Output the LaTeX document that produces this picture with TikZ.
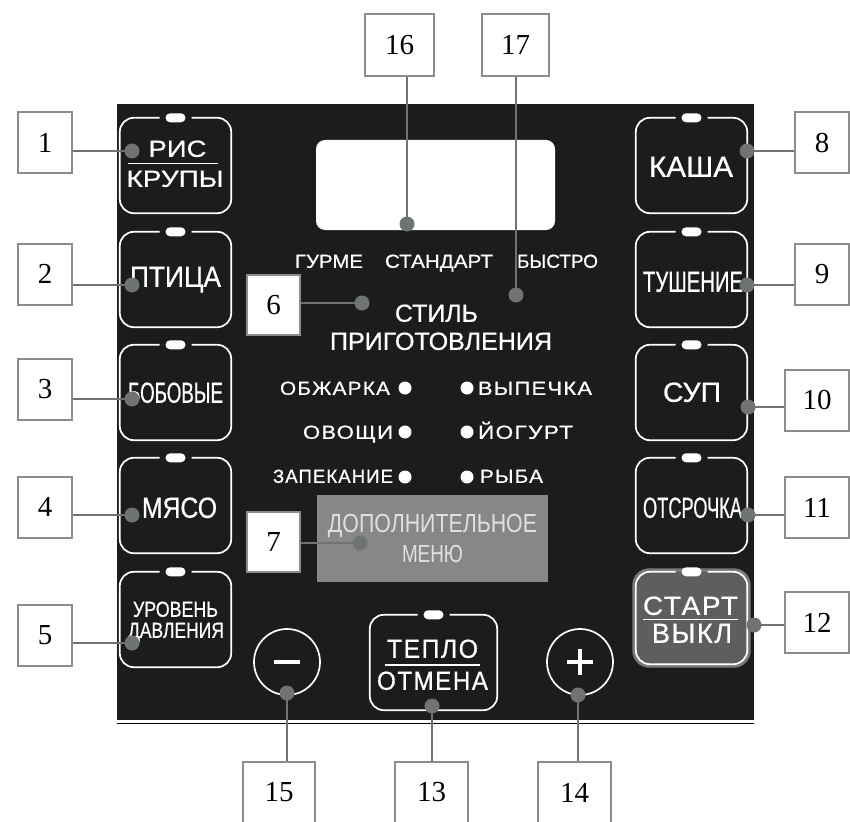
\documentclass[tikz,border=0pt]{standalone}
\usepackage{fontspec}
\setmainfont{Liberation Serif}
\newfontfamily\panelfont[FakeBold=0.7]{Liberation Sans}
\newfontfamily\spacedfont[LetterSpace=6,FakeBold=0.7]{Liberation Sans}
\newfontfamily\menufont{Liberation Sans}
\usepackage{graphicx}
\usetikzlibrary{positioning}
\colorlet{panelColor}{black!89}
\colorlet{boxColor}{black!45}
\colorlet{menuColor}{black!47}
\colorlet{startColor}{black!63}
\colorlet{startRim}{black!52}
\definecolor{leadColor}{RGB}{112,115,115}
\newcommand{\fitlabel}[3]{\resizebox{#1pt}{#2pt}{\panelfont\smash{#3}\vphantom{Н}}}
\newcommand{\fitspaced}[3]{\resizebox{#1pt}{#2pt}{\spacedfont\smash{#3}\vphantom{Н}}}
\newcommand{\fitmenu}[3]{\resizebox{#1pt}{#2pt}{\menufont\smash{#3}\vphantom{Н}}}
\tikzset{
	numbox/.style={draw=boxColor,line width=2pt,fill=white,inner sep=0pt,minimum width=54pt,minimum height=61pt,font=\fontsize{29}{29}\selectfont},
	panelkey/.style={inner sep=0pt,minimum width=111pt,minimum height=95pt},
	keyline/.style={draw=white,line width=1.7pt,rounded corners=14pt},
	lbl/.style={inner sep=0pt,anchor=south,text=white},
	lead/.style={draw=leadColor,line width=2.7pt},
	ledpill/.style={fill=white,rounded corners=4.5pt},
	modedot/.style={circle,fill=white,inner sep=0pt,minimum size=13pt},
	roundkey/.style={circle,draw=white,line width=1.7pt,minimum size=66pt,inner sep=0pt}
}
\begin{document}
\begin{tikzpicture}[x=1pt,y=-1pt]
	\useasboundingbox (0,0) rectangle (850,821);
	\fill[panelColor] (117,104) rectangle (754,720);
	\draw[black,line width=1.5pt] (117,723.5) -- (754,723.5);
	\node[fill=white,rounded corners=9pt,minimum width=239pt,minimum height=90pt] (display) at (435.5,185) {};
	\node[fill=menuColor,minimum width=231pt,minimum height=87pt] (menu) at (432.5,538.5) {};
	\node[panelkey] (k1) at (175.5,165.5) {};
	\node[panelkey] (k2) at (175.5,279.5) {};
	\node[panelkey] (k3) at (175.5,392.5) {};
	\node[panelkey] (k4) at (175.5,505.5) {};
	\node[panelkey] (k5) at (175.5,619.5) {};
	\node[panelkey] (k8) at (691.5,165.5) {};
	\node[panelkey] (k9) at (691.5,279.5) {};
	\node[panelkey] (k10) at (691.5,392.5) {};
	\node[panelkey] (k11) at (691.5,505.5) {};
	\node[panelkey,minimum height=92pt] (k12) at (691.5,618) {};
	\node[panelkey,minimum width=127pt] (k13) at (433.5,662.5) {};
	\fill[startRim,rounded corners=17pt] ([shift={(-3.5pt,3.5pt)}]k12.north west) rectangle ([shift={(3.5pt,-3.5pt)}]k12.south east);
	\fill[startColor,rounded corners=14pt] (k12.north west) rectangle (k12.south east);
	\foreach \k in {k1,k2,k3,k4,k5,k8,k9,k10,k11,k12,k13}{
		\draw[keyline] ([xshift=16pt]\k.north) -| (\k.south east) -| (\k.north west) -- ([xshift=-16pt]\k.north);
		\fill[ledpill] ([shift={(-10pt,-4.5pt)}]\k.north) rectangle ([shift={(10pt,4.5pt)}]\k.north);
	}
	\node[roundkey] (minus) at (287,662) {};
	\node[roundkey] (plus) at (580,662) {};
	\draw[white,line width=4.5pt] ([xshift=-13pt]minus.center) -- ([xshift=13pt]minus.center);
	\draw[white,line width=4.5pt] ([xshift=-13pt]plus.center) -- ([xshift=13pt]plus.center);
	\draw[white,line width=4.5pt] ([yshift=-13pt]plus.center) -- ([yshift=13pt]plus.center);
	\node[lbl] (ris) at (177.5,157) {\fitlabel{58}{16}{РИС}};
	\node[lbl] (krupy) at (175,187) {\fitlabel{97}{16}{КРУПЫ}};
	\draw[white,line width=1.8pt] (128,163.5) -- (218,163.5);
	\node[lbl] (ptica) at (175.5,287) {\fitlabel{91}{20}{ПТИЦА}};
	\node[lbl] (bobovye) at (175.5,403) {\fitlabel{95}{20}{БОБОВЫЕ}};
	\node[lbl] (myaso) at (179.5,518) {\fitlabel{75}{20}{МЯСО}};
	\node[lbl] (uroven) at (175.5,617) {\fitlabel{85}{15}{УРОВЕНЬ}};
	\node[lbl] (davlenie) at (176,638) {\fitlabel{96}{15}{ДАВЛЕНИЯ}};
	\node[lbl] (kasha) at (691,177) {\fitlabel{84}{20}{КАША}};
	\node[lbl] (tushenie) at (693,292) {\fitlabel{100}{20}{ТУШЕНИЕ}};
	\node[lbl] (sup) at (692,402) {\fitlabel{58}{19}{СУП}};
	\node[lbl] (otsrochka) at (692.5,518) {\fitlabel{99}{20}{ОТСРОЧКА}};
	\node[lbl] (start) at (690.5,615) {\fitspaced{95}{18}{СТАРТ}};
	\draw[white,line width=1.8pt] (643,619.5) -- (738,619.5);
	\node[lbl] (vykl) at (692,643) {\fitspaced{80}{19}{ВЫКЛ}};
	\node[lbl] (teplo) at (432.5,658) {\fitspaced{91}{18}{ТЕПЛО}};
	\draw[white,line width=1.8pt] (385,665) -- (480,665);
	\node[lbl] (otmena) at (432.5,690) {\fitspaced{111}{18}{ОТМЕНА}};
	\node[lbl] (gurme) at (329,268) {\fitlabel{68}{13}{ГУРМЕ}};
	\node[lbl] (standart) at (439,268) {\fitlabel{108}{13}{СТАНДАРТ}};
	\node[lbl] (bystro) at (557.5,268) {\fitlabel{81}{13}{БЫСТРО}};
	\node[lbl] (stil) at (436.5,322) {\fitlabel{83}{17}{СТИЛЬ}};
	\node[lbl] (prigotovl) at (441,350) {\fitlabel{222}{17}{ПРИГОТОВЛЕНИЯ}};
	\node[lbl] (obzharka) at (335,395) {\fitspaced{110}{13}{ОБЖАРКА}};
	\node[lbl] (ovoshchi) at (348,439) {\fitspaced{90}{13}{ОВОЩИ}};
	\node[lbl] (zapekanie) at (333,483) {\fitspaced{120}{13}{ЗАПЕКАНИЕ}};
	\node[lbl] (vypechka) at (535,395) {\fitspaced{114}{13}{ВЫПЕЧКА}};
	\node[lbl] (yogurt) at (525.5,439) {\fitspaced{95}{13}{ЙОГУРТ}};
	\node[lbl] (ryba) at (511.5,483) {\fitspaced{63}{13}{РЫБА}};
	\node[modedot] (md1) at (405,388) {};
	\node[modedot] (md2) at (405,432) {};
	\node[modedot] (md3) at (405,477) {};
	\node[modedot] (md4) at (467,388) {};
	\node[modedot] (md5) at (467,432) {};
	\node[modedot] (md6) at (467,477) {};
	\node[lbl,text=black!12] (dopoln) at (432.5,533) {\fitmenu{209}{18}{ДОПОЛНИТЕЛЬНОЕ}};
	\node[lbl,text=black!12] (menyu) at (432.5,563) {\fitmenu{61}{17}{МЕНЮ}};
	\node[numbox] (n1) at (45,142.5) {1};
	\node[numbox] (n2) at (45,274) {2};
	\node[numbox] (n3) at (45,389) {3};
	\node[numbox] (n4) at (45,507) {4};
	\node[numbox] (n5) at (45,635) {5};
	\node[numbox,minimum width=53pt,minimum height=60pt] (n6) at (273.5,305) {6};
	\node[numbox,minimum width=53pt,minimum height=60pt] (n7) at (273.5,542) {7};
	\node[numbox] (n8) at (822,142.5) {8};
	\node[numbox] (n9) at (822,274) {9};
	\node[numbox,minimum width=64pt] (n10) at (817,400) {10};
	\node[numbox,minimum width=64pt] (n11) at (817,507.5) {11};
	\node[numbox,minimum width=64pt] (n12) at (817,622.5) {12};
	\node[numbox,minimum width=73pt] (n13) at (431.5,792.5) {13};
	\node[numbox,minimum width=73pt] (n14) at (574.5,792.5) {14};
	\node[numbox,minimum width=72pt] (n15) at (279,792.5) {15};
	\node[numbox,minimum width=69pt,minimum height=62pt] (n16) at (399.5,45) {16};
	\node[numbox,minimum width=67pt,minimum height=62pt] (n17) at (515.5,45) {17};
	\coordinate (p1) at (132,151);
	\coordinate (p2) at (132,285);
	\coordinate (p3) at (132,399);
	\coordinate (p4) at (132,515);
	\coordinate (p5) at (132,643);
	\coordinate (p6) at (362,303);
	\coordinate (p7) at (360,543);
	\coordinate (p8) at (747,151);
	\coordinate (p9) at (747,285);
	\coordinate (p10) at (748,407);
	\coordinate (p11) at (748,515);
	\coordinate (p12) at (754,625);
	\coordinate (p13) at (432,706);
	\coordinate (p14) at (578,695);
	\coordinate (p15) at (287,693);
	\coordinate (p16) at (407,224);
	\coordinate (p17) at (516,295);
	\foreach \i in {1,...,7}
		\draw[lead] (n\i.east |- p\i) -- (p\i);
	\foreach \i in {8,...,12}
		\draw[lead] (n\i.west |- p\i) -- (p\i);
	\foreach \i in {13,14,15}
		\draw[lead] (n\i.north -| p\i) -- (p\i);
	\foreach \i in {16,17}
		\draw[lead] (n\i.south -| p\i) -- (p\i);
	\foreach \i in {1,...,17}
		\fill[leadColor] (p\i) circle (7.5pt);
\end{tikzpicture}
\end{document}
